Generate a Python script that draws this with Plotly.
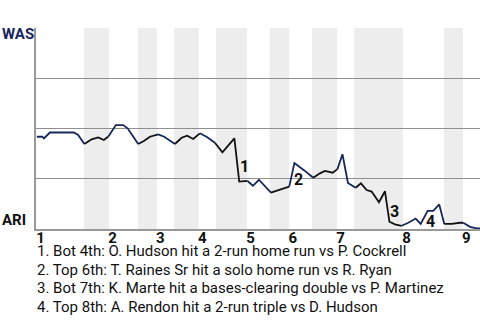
import plotly.graph_objects as go

# ---- data ----
# play position along the game and WAS win probability (%)
halves = ["T1", "B1", "T2", "B2", "T3", "B3", "T4", "B4", "T5", "B5",
          "T6", "B6", "T7", "B7", "T8", "B8", "T9"]
half_play = {
    "T1": [0, 0.93, 1.19, 2.2, 6.26, 6.99, 8.04],
    "B1": [9.26, 10.38, 11.34, 12.1],
    "T2": [13.37, 14.61, 15.36, 17.15],
    "B2": [18.17, 19.13, 20.54],
    "T3": [21.55, 23.36],
    "B3": [24.5, 25.44, 26.46, 27.59],
    "T4": [28.78, 30.13],
    "B4": [31.4, 33.43, 34.25, 35.64],
    "T5": [36.57, 37.58, 39.61],
    "B5": [41.39, 42.71],
    "T6": [43.59, 45.37, 46.78],
    "B6": [47.91, 48.76, 49.43, 50.06, 50.87],
    "T7": [51.72, 52.65, 53.95],
    "B7": [54.85, 55.81, 56.66, 57.9, 58.91, 59.67, 60.61, 61.74],
    "T8": [62.86, 64.11, 64.96, 66.14, 67.09, 68.1, 68.95],
    "B8": [70.2, 71.61, 72.17],
    "T9": [73.3, 74.43, 75],
}
half_wp = {
    "T1": [45.9, 45.9, 45.1, 48.0, 48.0, 46.8, 42.3],
    "B1": [44.6, 45.6, 44.3, 46.0],
    "T2": [51.7, 51.7, 50.1, 42.3],
    "B2": [43.9, 45.9, 47.1],
    "T3": [45.9, 42.3],
    "B3": [45.4, 46.4, 44.8, 47.6],
    "T4": [45.8, 42.9],
    "B4": [38.2, 45.1, 23.6, 23.9],
    "T5": [21.5, 24.5, 18.1],
    "B5": [19.8, 21.1],
    "T6": [32.8, 28.9, 25.5],
    "B6": [27.7, 28.9, 28.5, 28.0, 29.8],
    "T7": [37.2, 22.9, 20.5],
    "B7": [22.7, 19.4, 18.6, 13.3, 18.8, 3.6, 2.3, 1.6],
    "T8": [3.1, 5.2, 2.5, 9.0, 9.0, 12.2, 2.5],
    "B8": [2.5, 3.1, 3.1],
    "T9": [1.1, 0.3, 0.3],
}

inning_labels = ["1", "2", "3", "4", "5", "6", "7", "8", "9"]
inning_start = [0, 12.19, 20.3, 27.4, 35.55, 42.7, 50.8, 61.95, 72.1]
bottom_start = [7.96, 17.1, 23.2, 30.3, 39.4, 46.55, 53.7, 68.9]
game_end = 75

event_num = ["1", "2", "3", "4"]
event_x = [35.2, 44.2, 60.6, 66.7]
event_y = [31.3, 24.4, 8.5, 3.5]
event_text = [
    "1. Bot 4th: O. Hudson hit a 2-run home run vs P. Cockrell",
    "2. Top 6th: T. Raines Sr hit a solo home run vs R. Ryan",
    "3. Bot 7th: K. Marte hit a bases-clearing double vs P. Martinez",
    "4. Top 8th: A. Rendon hit a 2-run triple vs D. Hudson",
]

NAVY = "#17275c"
BLACK = "#111111"

fig = go.Figure()

# line segments coloured by half inning
prev = None
for h in halves:
    xs = list(half_play[h])
    ys = list(half_wp[h])
    if prev is not None:
        xs = [prev[0]] + xs
        ys = [prev[1]] + ys
    prev = (half_play[h][-1], half_wp[h][-1])
    fig.add_trace(go.Scatter(
        x=xs, y=ys, mode="lines",
        line=dict(color=NAVY if h.startswith("T") else BLACK, width=1.8),
        hoverinfo="skip", showlegend=False,
    ))

# shaded bottom halves
ends = inning_start[1:] + [game_end]
for b, e in zip(bottom_start, ends):
    fig.add_shape(type="rect", xref="x", yref="paper", x0=b, x1=e, y0=0, y1=1,
                  fillcolor="#ededed", line=dict(width=0), layer="below")

# event markers
for n, x, y in zip(event_num, event_x, event_y):
    fig.add_annotation(x=x, y=y, xref="x", yref="y", text="<b>" + n + "</b>", showarrow=False,
                       font=dict(family="Roboto", size=16, color=BLACK))

# team labels
fig.add_annotation(xref="paper", yref="paper", x=0, y=1, xanchor="left", yanchor="middle",
                   xshift=-36, yshift=-6, text="<b>WAS</b>", showarrow=False,
                   font=dict(family="Roboto", size=15, color=NAVY))
fig.add_annotation(xref="paper", yref="paper", x=0, y=0, xanchor="left", yanchor="middle",
                   xshift=-36, yshift=9, text="<b>ARI</b>", showarrow=False,
                   font=dict(family="Roboto", size=15, color=BLACK))

# event legend text, one line each
for i, t in enumerate(event_text):
    fig.add_annotation(xref="paper", yref="paper", x=0, y=0, xanchor="left", yanchor="middle",
                       xshift=-1, yshift=-22 - 18.5 * i, align="left", showarrow=False,
                       text=t, font=dict(family="Roboto", size=15, color="#111111"))

fig.update_layout(
    width=480, height=320,
    margin=dict(l=36, r=0, t=28, b=91),
    paper_bgcolor="white", plot_bgcolor="white",
    showlegend=False,
    xaxis=dict(range=[-0.15, game_end], tickvals=[s + 0.6 for s in inning_start],
               ticktext=["<b>" + t + "</b>" for t in inning_labels],
               showgrid=False, zeroline=False,
               showline=True, linecolor="#999999", linewidth=1.5, ticks="",
               ticklabelstandoff=-6,
               tickfont=dict(family="Roboto", size=15, color=BLACK),
               fixedrange=True),
    yaxis=dict(range=[0, 100], tickvals=[25, 50, 75, 100], showticklabels=False,
               showgrid=True, gridcolor="#8f8f8f", gridwidth=1, zeroline=False,
               showline=True, linecolor="#999999", linewidth=1.5, ticks="",
               fixedrange=True),
)

fig.write_html("out.html", config={"displayModeBar": False})
